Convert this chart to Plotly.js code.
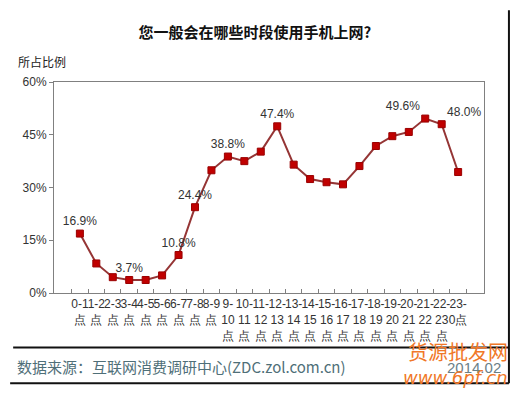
<!DOCTYPE html>
<html>
<head>
<meta charset="utf-8">
<script src="https://cdn.plot.ly/plotly-3.0.1.min.js"></script>
<style>html,body{margin:0;padding:0;background:#fff;}#chart{width:519px;height:396px;}</style>
</head>
<body>
<div id="chart"></div>
<script>
// ---- data ----
const categories = ["0-1<br>点","1-2<br>点","2-3<br>点","3-4<br>点","4-5<br>点","5-6<br>点","6-7<br>点","7-8<br>点","8-9<br>点",
  "9-<br>10<br>点","10-<br>11<br>点","11-<br>12<br>点","12-<br>13<br>点","13-<br>14<br>点","14-<br>15<br>点","15-<br>16<br>点",
  "16-<br>17<br>点","17-<br>18<br>点","18-<br>19<br>点","19-<br>20<br>点","20-<br>21<br>点","21-<br>22<br>点","22-<br>23<br>点","23-<br>0点"];
const values = [16.9, 8.4, 4.5, 3.7, 3.7, 5.0, 10.8, 24.4, 34.9, 38.8, 37.5, 40.2, 47.4, 36.5, 32.4, 31.5, 30.9, 36.1, 41.8, 44.6, 45.8, 49.6, 48.0, 34.4];
const labelled = [0, 3, 6, 7, 9, 12, 21, 22];
const yTickVals = [0, 15, 30, 45, 60];
const yTickText = ["0%", "15%", "30%", "45%", "60%"];
const title = "您一般会在哪些时段使用手机上网?";
const yTitle = "所占比例";
const source = "数据来源：互联网消费调研中心(ZDC.zol.com.cn)";
const dateText = "2014.02";

// ---- build ----
const labels = values.map((v, i) => labelled.includes(i) ? v.toFixed(1) + "%" : "");
const positions = values.map((v, i) => i === 21 ? "top left" : (i === 22 ? "top right" : "top center"));

const trace = {
  x: categories, y: values, type: "scatter", mode: "lines+markers+text",
  line: {color: "#953535", width: 2},
  marker: {symbol: "square", size: 7, color: "#c00000", line: {color: "#9a0000", width: 1}},
  text: labels, textposition: positions,
  textfont: {family: "Liberation Sans, Arial, sans-serif", size: 12, color: "#333"},
  cliponaxis: false, hoverinfo: "skip"
};

const layout = {
  width: 519, height: 396,
  margin: {l: 54, r: 35, t: 82, b: 103},
  paper_bgcolor: "#fff", plot_bgcolor: "#fff",
  showlegend: false,
  title: {text: "<b>" + title + "</b>", x: 0.491, xanchor: "center", y: 1 - 33/396, yanchor: "middle", yref: "container",
    font: {family: "Noto Sans CJK SC, sans-serif", size: 15, color: "#111"}},
  xaxis: {
    type: "category", showgrid: false, zeroline: false, showline: true, mirror: true, linecolor: "#808080", linewidth: 1,
    ticks: "inside", ticklen: 4, tickcolor: "#808080", tickson: "boundaries",
    tickfont: {family: "Liberation Sans, Arial, sans-serif", size: 12, color: "#333"}, tickangle: 0
  },
  yaxis: {
    range: [0, 60], tickvals: yTickVals, ticktext: yTickText, showgrid: false, zeroline: false,
    showline: true, mirror: true, linecolor: "#808080", linewidth: 1, ticks: "outside", ticklen: 4, tickcolor: "#808080",
    tickfont: {family: "Liberation Sans, Arial, sans-serif", size: 12, color: "#333"}
  },
  annotations: [
    {text: yTitle, xref: "paper", yref: "paper", x: -0.088, y: 1.095, xanchor: "left", yanchor: "middle", showarrow: false,
      font: {family: "Noto Sans CJK SC, sans-serif", size: 12, color: "#222"}},
    {text: source, xref: "paper", yref: "paper", x: -0.09, y: -0.349, xanchor: "left", yanchor: "middle", showarrow: false,
      font: {family: "Noto Sans CJK SC, sans-serif", size: 15, color: "#4f6f78"}},
    {text: dateText, xref: "paper", yref: "paper", x: 0.91, y: -0.355, xanchor: "left", yanchor: "middle", showarrow: false,
      font: {family: "Liberation Sans, Arial, sans-serif", size: 15, color: "#6b8088"}},
    {text: "货源批发网", xref: "paper", yref: "paper", x: 1.06, y: -0.275, xanchor: "right", yanchor: "middle", showarrow: false,
      font: {family: "Noto Sans CJK SC, sans-serif", size: 20, color: "#f07828"}},
    {text: "<i>www.6pf.cn</i>", xref: "paper", yref: "paper", x: 1.06, y: -0.4, xanchor: "right", yanchor: "middle", showarrow: false,
      font: {family: "DejaVu Sans, sans-serif", size: 18, color: "#f07828"}}
  ],
  shapes: [
    {type: "line", xref: "paper", yref: "paper", x0: -0.095, x1: 1.058, y0: -0.258, y1: -0.258, line: {color: "#111", width: 2}},
    {type: "line", xref: "paper", yref: "paper", x0: -0.102, x1: 1.058, y0: -0.428, y1: -0.428, line: {color: "#111", width: 2}},
    {type: "line", xref: "paper", yref: "paper", x0: 1.058, x1: 1.058, y0: -0.428, y1: 1.34, line: {color: "#111", width: 2}}
  ]
};

Plotly.newPlot("chart", [trace], layout, {displayModeBar: false, staticPlot: true});
</script>
</body>
</html>
